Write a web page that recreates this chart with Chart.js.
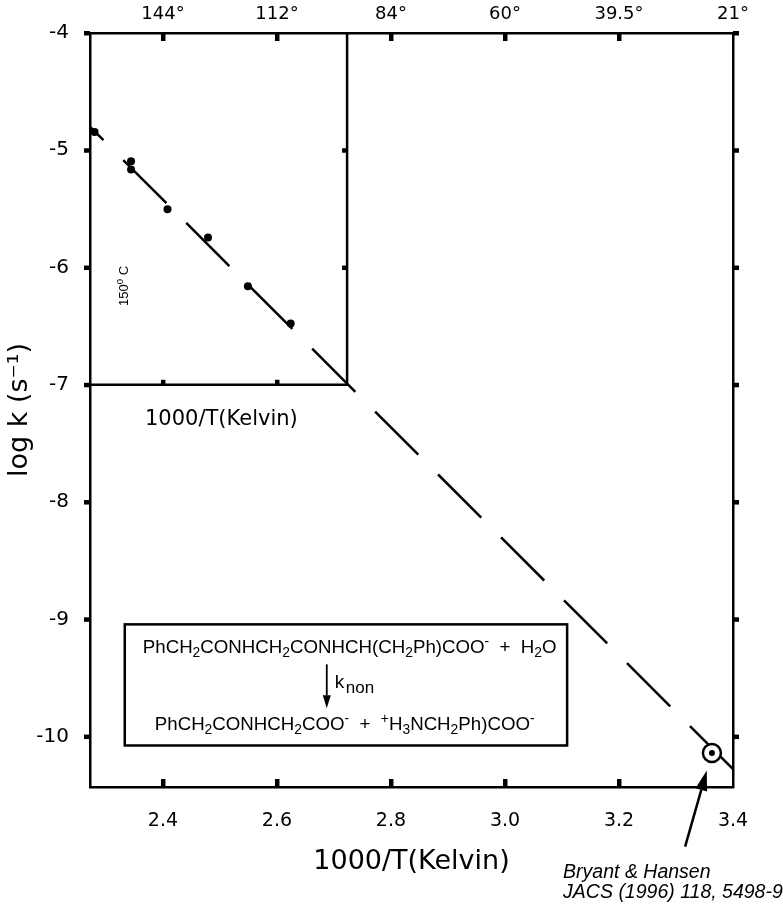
<!DOCTYPE html>
<html>
<head>
<meta charset="utf-8">
<script src="https://cdn.jsdelivr.net/npm/chart.js@4.4.1/dist/chart.umd.min.js"></script>
<style>
	html, body { margin: 0; padding: 0; background: #fff; }
	#wrap { width: 783px; height: 905px; position: relative; }
</style>
</head>
<body>
<div id="wrap"><canvas id="myChart"></canvas></div>
<script>
// measured rate constants (log k) against 1000/T
var obsX = [2.280, 2.344, 2.344, 2.408, 2.479, 2.549, 2.624];
var obsY = [-4.845, -5.094, -5.165, -5.504, -5.744, -6.159, -6.477];

// Bryant & Hansen point at 25 C
var bhX = [3.363];
var bhY = [-10.14];

// extrapolated fit, dashed
var fitX = [2.272, 3.4];
var fitY = [-4.80, -10.277];

var xTicks = [2.4, 2.6, 2.8, 3.0, 3.2, 3.4];
var xTickLabels = ["2.4", "2.6", "2.8", "3.0", "3.2", "3.4"];
var topTickLabels = ["144\u00b0", "112\u00b0", "84\u00b0", "60\u00b0", "39.5\u00b0", "21\u00b0"];
var yTicks = [-4, -5, -6, -7, -8, -9, -10];
var yTickLabels = ["-4", "-5", "-6", "-7", "-8", "-9", "-10"];

// inset frame (upper left) and its own ticks
var insetX = [2.272, 2.723, 2.723];
var insetY = [-7, -7, -4];
var insetXTicks = [2.4, 2.6];
var insetYTicks = [-5, -6];

var xMin = 2.272, xMax = 3.4, yMin = -10.43, yMax = -4;

// reaction box corners (data units) and the arrow to the Bryant & Hansen point
var boxX = [2.333, 3.109];
var boxY = [-9.043, -10.076];
var arrowTip = [3.354, -10.29];
var arrowTail = [3.316, -10.938];

var SANS = '"Liberation Sans", Arial, sans-serif';
var DEJAVU = '"DejaVu Sans", sans-serif';

function pts(xs, ys) {
	return xs.map(function (x, i) { return { x: x, y: ys[i] }; });
}

function richText(c, parts, x, y, size, style) {
	parts.forEach(function (p) {
		var mode = p[1] || "";
		var fs = mode ? size * 0.74 : size;
		var dy = mode === "sub" ? size * 0.22 : (mode === "sup" ? -size * 0.4 : 0);
		c.font = (style || "") + fs + "px " + SANS;
		c.fillText(p[0], x, y + dy);
		x += c.measureText(p[0]).width;
	});
	return x;
}

function arrow(c, x0, y0, x1, y1, headLen, headW, lw) {
	var ang = Math.atan2(y1 - y0, x1 - x0);
	var bx = x1 - headLen * Math.cos(ang), by = y1 - headLen * Math.sin(ang);
	c.lineWidth = lw;
	c.beginPath();
	c.moveTo(x0, y0);
	c.lineTo(bx, by);
	c.stroke();
	c.beginPath();
	c.moveTo(x1, y1);
	c.lineTo(bx + headW * Math.sin(ang), by - headW * Math.cos(ang));
	c.lineTo(bx - headW * Math.sin(ang), by + headW * Math.cos(ang));
	c.closePath();
	c.fill();
}

var extras = {
	id: "extras",
	afterDraw: function (chart) {
		var c = chart.ctx, a = chart.chartArea;
		var xs = chart.scales.x, ys = chart.scales.y;
		var px = function (v) { return xs.getPixelForValue(v); };
		var py = function (v) { return ys.getPixelForValue(v); };
		c.save();
		c.fillStyle = "#000";
		c.strokeStyle = "#000";
		c.textBaseline = "alphabetic";
		c.textAlign = "left";

		// tick marks: outward left/right, inward top/bottom
		yTicks.forEach(function (v) {
			c.fillRect(a.left - 6, py(v) - 2, 6, 4.5);
			c.fillRect(a.right, py(v) - 2, 6, 4.5);
		});
		xTicks.forEach(function (v) {
			if (v >= xMax) return;
			c.fillRect(px(v) - 2, a.top, 4.5, 8);
			c.fillRect(px(v) - 2, a.bottom - 8, 4.5, 8);
		});
		insetXTicks.forEach(function (v) {
			c.fillRect(px(v) - 2, py(insetY[0]) - 5, 4.5, 5);
		});
		insetYTicks.forEach(function (v) {
			c.fillRect(px(insetX[1]) - 5, py(v) - 2, 5, 4.5);
		});

		// inset labels
		c.font = "21px " + DEJAVU;
		c.fillText("1000/T(Kelvin)", a.left + 55, py(insetY[0]) + 40);
		c.save();
		c.translate(a.left + 38, a.top + 273);
		c.rotate(-Math.PI / 2);
		richText(c, [["150"], ["0", "sup"], [" C"]], 0, 0, 13);
		c.restore();

		// reaction box
		var bl = px(boxX[0]), br = px(boxX[1]), bt = py(boxY[0]), bb = py(boxY[1]);
		c.fillStyle = "#fff";
		c.fillRect(bl, bt, br - bl, bb - bt);
		c.fillStyle = "#000";
		c.lineWidth = 2.5;
		c.strokeRect(bl, bt, br - bl, bb - bt);
		richText(c, [["PhCH"], ["2", "sub"], ["CONHCH"], ["2", "sub"], ["CONHCH(CH"], ["2", "sub"],
			["Ph)COO"], ["-", "sup"], ["  +  H"], ["2", "sub"], ["O"]], bl + 18, bt + 29, 18.7);
		arrow(c, bl + 202, bt + 40, bl + 202, bt + 84, 13, 4, 1.8);
		richText(c, [["k"]], bl + 210, bt + 64, 19);
		c.font = "17px " + SANS;
		c.fillText("non", bl + 221, bt + 69);
		richText(c, [["PhCH"], ["2", "sub"], ["CONHCH"], ["2", "sub"], ["COO"], ["-", "sup"], ["  +  "],
			["+", "sup"], ["H"], ["3", "sub"], ["NCH"], ["2", "sub"], ["Ph)COO"], ["-", "sup"]], bl + 30, bt + 106, 18.7);

		// pointer to the literature value
		var tx = px(arrowTail[0]), ty = py(arrowTail[1]);
		arrow(c, tx, ty, px(arrowTip[0]), py(arrowTip[1]), 20, 6, 2.5);
		richText(c, [["Bryant & Hansen"]], tx - 122, ty + 31, 19.5, "italic ");
		richText(c, [["JACS (1996) 118, 5498-9"]], tx - 122, ty + 51, 19.5, "italic ");
		c.restore();
	}
};

var data = {
	datasets: [{
		label: "inset",
		data: pts(insetX, insetY),
		showLine: true,
		borderColor: "#000",
		borderWidth: 2.5,
		pointRadius: 0,
		order: 5
	}, {
		label: "fit",
		data: pts(fitX, fitY),
		showLine: true,
		borderColor: "#000",
		borderWidth: 2.5,
		borderDash: [61, 28],
		borderDashOffset: 42,
		pointRadius: 0,
		order: 4
	}, {
		label: "Bryant & Hansen",
		data: pts(bhX, bhY),
		pointRadius: 9,
		pointBackgroundColor: "#fff",
		pointBorderColor: "#000",
		pointBorderWidth: 2.5,
		order: 2
	}, {
		label: "Bryant & Hansen dot",
		data: pts(bhX, bhY),
		pointRadius: 3,
		pointBackgroundColor: "#000",
		pointBorderWidth: 0,
		order: 1
	}, {
		label: "observed",
		data: pts(obsX, obsY),
		pointRadius: 4,
		pointBackgroundColor: "#000",
		pointBorderWidth: 0,
		order: 1
	}]
};

var options = {
	responsive: true,
	maintainAspectRatio: false,
	animation: false,
	events: [],
	layout: { padding: 0 },
	plugins: { legend: { display: false }, tooltip: { enabled: false } },
	scales: {
		x: {
			type: "linear", position: "bottom", min: xMin, max: xMax,
			afterBuildTicks: function (s) { s.ticks = xTicks.map(function (v) { return { value: v }; }); },
			afterFit: function (s) { s.height = 118; },
			grid: { display: false, drawTicks: false },
			border: { display: true, color: "#000", width: 2.5 },
			ticks: {
				autoSkip: false, maxRotation: 0, padding: 23, color: "#000",
				font: { family: "DejaVu Sans", size: 19 },
				callback: function (v, i) { return xTickLabels[i]; }
			},
			title: {
				display: true, text: "1000/T(Kelvin)", color: "#000",
				font: { family: "DejaVu Sans", size: 27 }, padding: { top: 0, bottom: 27 }
			}
		},
		x2: {
			type: "linear", position: "top", min: xMin, max: xMax,
			afterBuildTicks: function (s) { s.ticks = xTicks.map(function (v) { return { value: v }; }); },
			afterFit: function (s) { s.height = 29; },
			grid: { display: false, drawTicks: false },
			border: { display: true, color: "#000", width: 2.5 },
			ticks: {
				autoSkip: false, maxRotation: 0, padding: 8, color: "#000",
				font: { family: "DejaVu Sans", size: 18 },
				callback: function (v, i) { return topTickLabels[i]; }
			}
		},
		y: {
			type: "linear", position: "left", min: yMin, max: yMax,
			afterBuildTicks: function (s) { s.ticks = yTicks.map(function (v) { return { value: v }; }); },
			afterFit: function (s) { s.width = 90; },
			grid: { display: false, drawTicks: false },
			border: { display: true, color: "#000", width: 2.5 },
			ticks: {
				autoSkip: false, padding: 21, color: "#000",
				font: { family: "DejaVu Sans", size: 20 },
				callback: function (v, i) { return yTickLabels[i]; }
			},
			title: {
				display: true, text: "log k (s\u207b\u00b9)", color: "#000",
				font: { family: "DejaVu Sans", size: 27 }, padding: { top: 4, bottom: 0 }
			}
		},
		y2: {
			type: "linear", position: "right", min: yMin, max: yMax,
			afterFit: function (s) { s.width = 50; },
			grid: { display: false, drawTicks: false },
			border: { display: true, color: "#000", width: 2.5 },
			ticks: { display: false }
		}
	}
};

var myChart = new Chart(document.getElementById("myChart"), {
	type: "scatter",
	data: data,
	options: options,
	plugins: [extras]
});
</script>
</body>
</html>
